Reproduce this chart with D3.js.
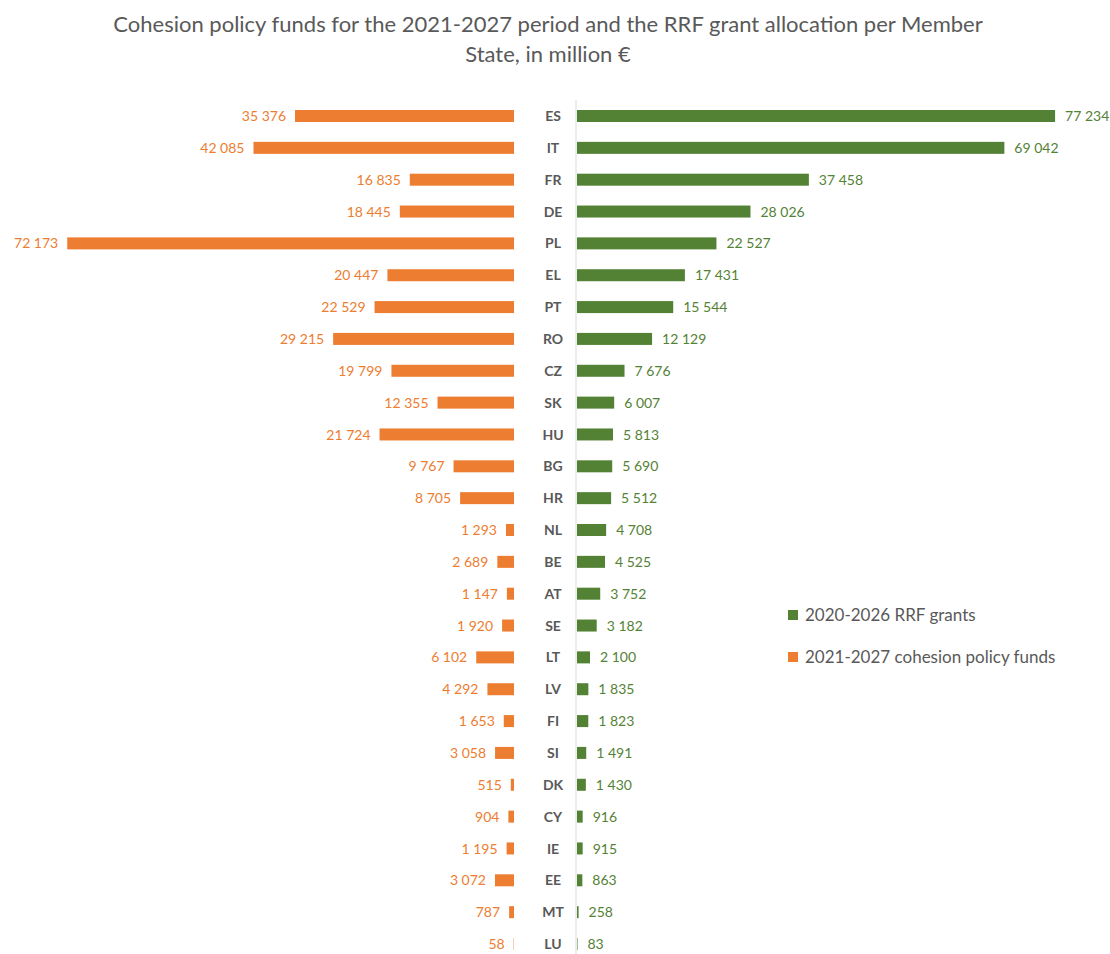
<!DOCTYPE html>
<html><head><meta charset="utf-8">
<script src="https://cdn.jsdelivr.net/npm/d3@7"></script>
<style>body{margin:0;background:#fff}svg{display:block}</style>
</head><body>
<svg id="c" width="1110" height="954"></svg>
<script>
const countries = ["ES","IT","FR","DE","PL","EL","PT","RO","CZ","SK","HU","BG","HR","NL","BE","AT","SE","LT","LV","FI","SI","DK","CY","IE","EE","MT","LU"];
const rrfGrants = [77234,69042,37458,28026,22527,17431,15544,12129,7676,6007,5813,5690,5512,4708,4525,3752,3182,2100,1835,1823,1491,1430,916,915,863,258,83];
const cohesionFunds = [35376,42085,16835,18445,72173,20447,22529,29215,19799,12355,21724,9767,8705,1293,2689,1147,1920,6102,4292,1653,3058,515,904,1195,3072,787,58];
const seriesNames = ["2020-2026 RRF grants","2021-2027 cohesion policy funds"];
const titleLines = ["Cohesion policy funds for the 2021-2027 period and the RRF grant allocation per Member","State, in million €"];

const GREEN="#548235", ORANGE="#ED7D31", GREY="#595959";
const FONT="Lato, 'Open Sans', sans-serif";
const svg=d3.select("#c");
const fmt=d3.formatLocale({decimal:".",thousands:"\u00A0",grouping:[3],currency:["","€"]}).format(",d");

const k=0.00619;
const xR=d3.scaleLinear().domain([0,80000]).range([577,577+80000*k]);
const xL=d3.scaleLinear().domain([0,80000]).range([514,514-80000*k]);
const y=d3.scalePoint().domain(countries).range([116,944]);
const bh=12;

svg.append("g").selectAll("text").data(titleLines).join("text")
  .attr("x",548).attr("y",(d,i)=>32+i*30).attr("text-anchor","middle")
  .attr("font-family",FONT).attr("font-size",22).attr("fill",GREY).text(d=>d);

svg.append("line").attr("x1",576).attr("x2",576).attr("y1",100).attr("y2",954)
  .attr("stroke","#d9d9d9").attr("stroke-width",1);

const data=countries.map((c,i)=>({c,r:rrfGrants[i],h:cohesionFunds[i]}));

svg.append("g").selectAll("rect").data(data).join("rect")
  .attr("x",d=>xR(0)).attr("y",d=>y(d.c)-bh/2).attr("width",d=>xR(d.r)-xR(0)).attr("height",bh).attr("fill",GREEN);
svg.append("g").selectAll("rect").data(data).join("rect")
  .attr("x",d=>xL(d.h)).attr("y",d=>y(d.c)-bh/2).attr("width",d=>xL(0)-xL(d.h)).attr("height",bh).attr("fill",ORANGE);

svg.append("g").selectAll("text").data(data).join("text")
  .attr("x",d=>xR(d.r)+10).attr("y",d=>y(d.c)).attr("dy","0.36em")
  .attr("font-family",FONT).attr("font-size",14).attr("fill",GREEN).text(d=>fmt(d.r));
svg.append("g").selectAll("text").data(data).join("text")
  .attr("x",d=>xL(d.h)-9).attr("y",d=>y(d.c)).attr("dy","0.36em").attr("text-anchor","end")
  .attr("font-family",FONT).attr("font-size",14).attr("fill",ORANGE).text(d=>fmt(d.h));
svg.append("g").selectAll("text").data(data).join("text")
  .attr("x",553).attr("y",d=>y(d.c)).attr("dy","0.36em").attr("text-anchor","middle")
  .attr("font-family",FONT).attr("font-size",14).attr("font-weight","bold").attr("fill",GREY).text(d=>d.c);

const lg=svg.append("g").selectAll("g").data(seriesNames).join("g")
  .attr("transform",(d,i)=>`translate(788,${615+i*42})`);
lg.append("rect").attr("x",0).attr("y",-5).attr("width",10).attr("height",10).attr("fill",(d,i)=>i?ORANGE:GREEN);
lg.append("text").attr("x",17).attr("y",0).attr("dy","0.36em").attr("font-family",FONT).attr("font-size",17).attr("fill",GREY).text(d=>d);
</script>
</body></html>
